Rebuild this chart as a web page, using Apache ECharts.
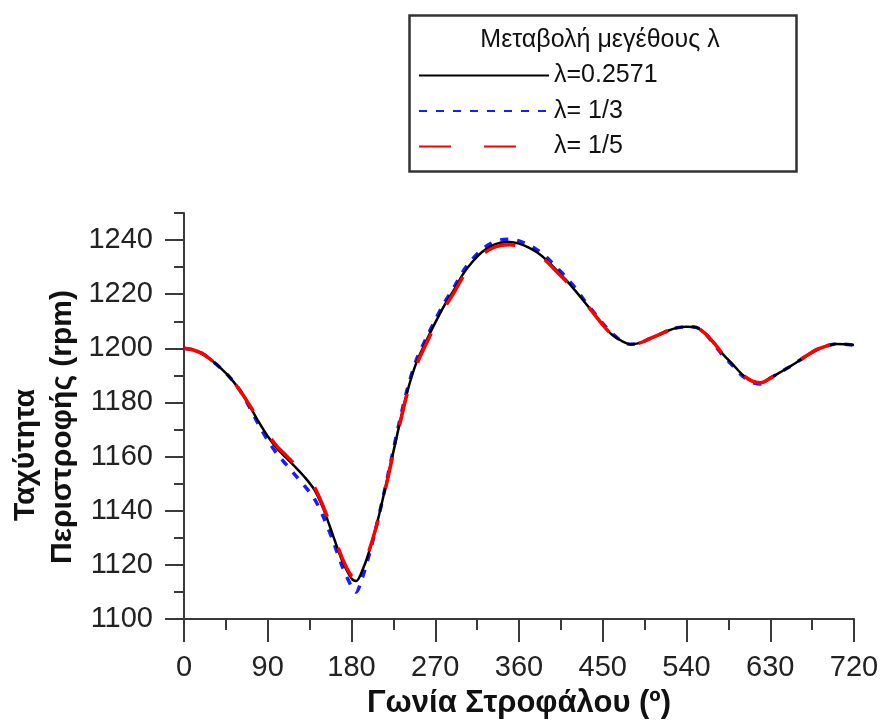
<!DOCTYPE html>
<html>
<head>
<meta charset="utf-8">
<script src="https://cdn.jsdelivr.net/npm/echarts@6/dist/echarts.min.js"></script>
<style>html,body{margin:0;padding:0;background:#fff}#c{width:883px;height:724px}</style>
</head>
<body>
<div id="c"></div>
<script>
var angles = [0,10,20,30,40,50,60,70,80,90,100,110,120,130,140,150,160,170,180,185,190,200,210,220,230,240,250,260,270,280,290,300,310,320,330,340,350,360,370,380,390,400,410,420,430,440,450,460,470,480,490,500,510,520,530,540,550,560,570,580,590,600,610,620,630,640,650,660,670,680,690,700,710,720];
var speedL02571 = [1200,1199.4,1198,1195.5,1192.5,1189,1184.5,1179,1173,1167.5,1163,1159.5,1156,1152.3,1147.8,1140.5,1131,1121.5,1115,1114,1116.5,1126,1139,1154,1169.5,1184,1195,1202.5,1209.5,1216,1221.5,1227.5,1232,1235.5,1237.8,1239,1239.3,1238.7,1237.3,1235.3,1232.5,1229,1225.5,1221.5,1217.3,1213,1208.7,1205,1202.8,1201.5,1202,1203.5,1205,1206.5,1207.6,1208,1207.8,1205.5,1201.8,1197.5,1194,1190.3,1188,1187.3,1189,1191,1193,1195.2,1197.5,1199.5,1200.8,1201.6,1201.5,1201.2];
var speedL13 = [1200,1199.4,1198,1195.5,1192.5,1189,1184.5,1178.5,1172,1166,1161,1157,1153,1149,1144.5,1137.5,1129,1119.5,1112,1110,1113.5,1125,1139,1154.5,1170.5,1185,1196,1203.5,1210.5,1217,1222.5,1228.5,1233,1236.5,1238.8,1240,1240.3,1239.7,1238.3,1236.3,1233.5,1230,1226.5,1222.5,1217.8,1213.5,1209.2,1205.5,1202.8,1201.5,1202,1203.5,1205,1206.5,1207.6,1208,1207.8,1205.5,1201.3,1197,1193.5,1189.8,1187.5,1186.8,1189,1191,1193,1195.2,1197.5,1199.5,1200.8,1201.6,1201.5,1201.2];
var speedL15 = [1200,1199.4,1198,1195.5,1192.5,1189,1184.5,1179.3,1173.8,1168.3,1163.8,1160.3,1156.8,1153,1148.8,1141.3,1132,1122.5,1116,1115.5,1118,1126.5,1138.5,1153.5,1169,1183.5,1194,1201.5,1208.5,1215,1220.5,1226.5,1231,1234.5,1236.8,1238,1238.3,1237.7,1236.3,1234.8,1232,1228.5,1225,1221,1217.3,1213,1208.7,1205,1202.8,1201.5,1202,1203.5,1205,1206.5,1207.6,1208,1207.8,1205.5,1201.8,1197.5,1194,1190.3,1188,1187.3,1189,1191,1193,1195.2,1197.5,1199.5,1200.8,1201.6,1201.5,1201.2];
var seriesNames = ['λ=0.2571', 'λ= 1/3', 'λ= 1/5'];
var yMajorTicks = [1100,1120,1140,1160,1180,1200,1220,1240];
var yMinorTicks = [1110,1130,1150,1170,1190,1210,1230,1250];
var legendTitle = 'Μεταβολή μεγέθους λ';
var xTitle = 'Γωνία Στροφάλου (º)';
var yTitle1 = 'Ταχύτητα';
var yTitle2 = 'Περιστροφής (rpm)';

function pairs(vals){ return angles.map(function(a,i){ return [a, vals[i]]; }); }

var FONT = "'Liberation Sans', Arial, sans-serif";
var axisCol = '#3a3a3a';
var chart = echarts.init(document.getElementById('c'), null, {renderer:'canvas'});
chart.setOption({
  animation: false,
  backgroundColor: '#fff',
  grid: {left:184, right:29, top:213, bottom:105, containLabel:false, outerBoundsMode:'none'},
  legend: {
    orient: 'vertical', left: 418, top: 63, padding: 0,
    itemWidth: 130, itemHeight: 24, itemGap: 10.5,
    itemStyle: {opacity: 0},
    textStyle: {fontFamily: FONT, fontSize: 25, color: '#111', padding:[0,0,0,0]},
    data: seriesNames
  },
  graphic: [
    {type:'rect', left:407, top:13, shape:{width:387, height:156}, style:{fill:'none', stroke:'#333', lineWidth:2.5}, z:-1},
    {type:'text', x:600, y:40, style:{text:legendTitle, font:'25px '+FONT, fill:'#111', align:'center', verticalAlign:'middle'}},
    {type:'text', x:26, y:455, rotation:Math.PI/2, style:{text:yTitle1, font:'bold 30px '+FONT, fill:'#111', align:'center', verticalAlign:'middle'}},
    {type:'text', x:63, y:427, rotation:Math.PI/2, style:{text:yTitle2, font:'bold 30px '+FONT, fill:'#111', align:'center', verticalAlign:'middle'}}
  ],
  xAxis: {
    type:'value', min:0, max:720, interval:90,
    name: xTitle, nameLocation:'middle', nameGap:69,
    nameTextStyle:{fontFamily:FONT, fontSize:31, fontWeight:'bold', color:'#111'},
    axisLine:{show:true, lineStyle:{color:axisCol, width:2}},
    axisTick:{show:true, length:23, lineStyle:{color:axisCol, width:2}},
    minorTick:{show:true, splitNumber:2, length:11, lineStyle:{color:axisCol, width:2}},
    axisLabel:{fontFamily:FONT, fontSize:29, color:'#222', margin:34, formatter:function(v){return String(v);}},
    splitLine:{show:false}
  },
  yAxis: [{
    type:'value', min:1100, max:1250, interval:10,
    axisLine:{show:true, lineStyle:{color:axisCol, width:2}},
    axisTick:{show:true, length:10, customValues: yMinorTicks, lineStyle:{color:axisCol, width:2}},
    axisLabel:{show:true, customValues: yMajorTicks, fontFamily:FONT, fontSize:29, color:'#222', margin:31, formatter:function(v){return String(v);}},
    splitLine:{show:false}
  },{
    type:'value', min:1100, max:1250, interval:10, position:'left',
    axisLine:{show:false},
    axisTick:{show:true, length:19, customValues: yMajorTicks, lineStyle:{color:axisCol, width:2}},
    axisLabel:{show:false},
    splitLine:{show:false}
  }],
  series: [
    {name:seriesNames[0], type:'line', data:pairs(speedL02571), smooth:0.3, symbol:'none', lineStyle:{color:'#000', width:2.5, type:'solid'}, itemStyle:{color:'#000'}, z:3},
    {name:seriesNames[1], type:'line', data:pairs(speedL13), smooth:0.3, symbol:'none', lineStyle:{color:'#1a1aff', width:3.5, type:[8,9]}, itemStyle:{color:'#1a1aff'}, z:2},
    {name:seriesNames[2], type:'line', data:pairs(speedL15), smooth:0.3, symbol:'none', lineStyle:{color:'#ff0000', width:3.5, type:[32,33]}, itemStyle:{color:'#ff0000'}, z:4}
  ]
});
</script>
</body>
</html>
